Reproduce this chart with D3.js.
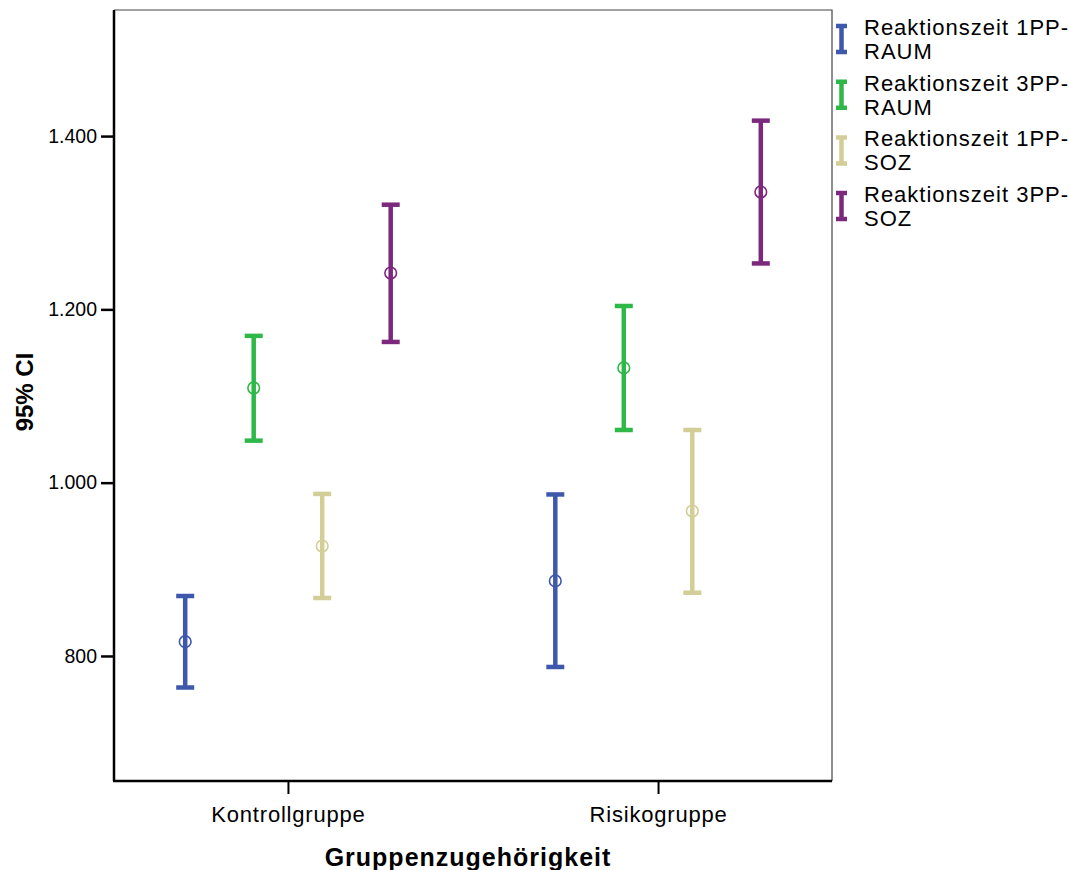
<!DOCTYPE html>
<html>
<head>
<meta charset="utf-8">
<script src="https://cdn.jsdelivr.net/npm/d3@7"></script>
<style>
  html, body { margin: 0; padding: 0; background: #fff; }
  svg { display: block; font-family: "Liberation Sans", Arial, Helvetica, sans-serif; }
</style>
</head>
<body>
<svg id="chart" width="1070" height="870"></svg>
<script>
// Groups on the x axis
const groups = ["Kontrollgruppe", "Risikogruppe"];
// Measures (one error bar per group each)
const series = [
  "Reaktionszeit 1PP-RAUM",
  "Reaktionszeit 3PP-RAUM",
  "Reaktionszeit 1PP-SOZ",
  "Reaktionszeit 3PP-SOZ"
];
const seriesColors = ["#3e58ac", "#2eb848", "#d3ce97", "#7c287d"];
// Means and 95% CI bounds, per measure, per group (Kontrollgruppe, Risikogruppe)
const means = [
  [816.5, 886.6],
  [1109.3, 1132.4],
  [926.9, 967.3],
  [1242.0, 1335.5]
];
const lower = [
  [763.6, 787.3],
  [1048.5, 1060.8],
  [866.9, 873.0],
  [1162.4, 1253.0]
];
const upper = [
  [869.2, 986.4],
  [1169.4, 1203.9],
  [987.0, 1060.8],
  [1320.8, 1417.8]
];
const yTicks = [800, 1000, 1200, 1400];
const yTitle = "95% CI";
const xTitle = "Gruppenzugehörigkeit";

const svg = d3.select("#chart");
const plot = { left: 114, right: 832, top: 10, bottom: 781 };

const x = d3.scalePoint().domain(groups).range([plot.left, plot.right]).padding(0.47);
const xOff = d3.scalePoint().domain(series).range([-102.75, 102.75]);
const y = d3.scaleLinear().domain([655.7, 1545.5]).range([plot.bottom, plot.top]);

const de = d3.formatLocale({ decimal: ",", thousands: ".", grouping: [3], currency: ["", " €"] });
const fmt = de.format(",");

// Frame: thin top/right border
svg.append("path")
  .attr("d", `M${plot.left},${plot.top}H${plot.right}V${plot.bottom}`)
  .attr("fill", "none").attr("stroke", "#444").attr("stroke-width", 1.2);

// Y axis
const yAxis = svg.append("g")
  .attr("transform", `translate(${plot.left},0)`)
  .call(d3.axisLeft(y).tickValues(yTicks).tickFormat(fmt).tickSize(13).tickSizeOuter(0).tickPadding(4));
yAxis.select(".domain").attr("stroke", "#000").attr("stroke-width", 2.5)
  .attr("d", `M0,${plot.top}V${plot.bottom}`);
yAxis.selectAll(".tick line").attr("stroke", "#000").attr("stroke-width", 2.5);
yAxis.selectAll(".tick text").attr("font-size", 19.5).attr("fill", "#000");

// X axis
const xAxis = svg.append("g")
  .attr("transform", `translate(0,${plot.bottom})`)
  .call(d3.axisBottom(x).tickSize(13).tickSizeOuter(0).tickPadding(12));
xAxis.select(".domain").attr("stroke", "#000").attr("stroke-width", 2.5)
  .attr("d", `M${plot.left - 1},0H${plot.right}`);
xAxis.selectAll(".tick line").attr("stroke", "#000").attr("stroke-width", 2);
xAxis.selectAll(".tick text").attr("font-size", 22).attr("letter-spacing", 0.8).attr("fill", "#000");

// Axis titles
svg.append("text")
  .attr("transform", `translate(33,392) rotate(-90)`)
  .attr("text-anchor", "middle").attr("font-size", 24).attr("font-weight", "bold")
  .text(yTitle);
svg.append("text")
  .attr("x", 468).attr("y", 866)
  .attr("text-anchor", "middle").attr("font-size", 25).attr("font-weight", "bold")
  .attr("letter-spacing", 1.0)
  .text(xTitle);

// Error bars
const bars = [];
series.forEach((s, si) => {
  groups.forEach((g, gi) => {
    bars.push({ s, g, color: seriesColors[si], mean: means[si][gi], lo: lower[si][gi], hi: upper[si][gi] });
  });
});
const capW = 9;
const eb = svg.append("g").selectAll("g").data(bars).join("g")
  .attr("transform", d => `translate(${x(d.g) + xOff(d.s)},0)`);
eb.append("line")
  .attr("y1", d => y(d.lo)).attr("y2", d => y(d.hi))
  .attr("stroke", d => d.color).attr("stroke-width", 4.5);
eb.append("line")
  .attr("x1", -capW).attr("x2", capW)
  .attr("y1", d => y(d.hi)).attr("y2", d => y(d.hi))
  .attr("stroke", d => d.color).attr("stroke-width", 4.5);
eb.append("line")
  .attr("x1", -capW).attr("x2", capW)
  .attr("y1", d => y(d.lo)).attr("y2", d => y(d.lo))
  .attr("stroke", d => d.color).attr("stroke-width", 4.5);
eb.append("circle")
  .attr("cy", d => y(d.mean)).attr("r", 5.8)
  .attr("fill", "none").attr("stroke", d => d.color).attr("stroke-width", 1.6);

// Legend
const legend = svg.append("g");
const entry = legend.selectAll("g").data(series).join("g")
  .attr("transform", (d, i) => `translate(0,${35 + i * 55.7})`);
entry.append("path")
  .attr("d", "M836,-9H847M841.5,-9V17M836,17H847")
  .attr("fill", "none")
  .attr("stroke", (d, i) => seriesColors[i]).attr("stroke-width", 4.5);
const lt = entry.append("text").attr("x", 864).attr("y", 0)
  .attr("font-size", 22).attr("letter-spacing", 1.0).attr("fill", "#000");
lt.append("tspan").attr("x", 864).attr("dy", 0).text(d => d.slice(0, d.lastIndexOf("-") + 1));
lt.append("tspan").attr("x", 864).attr("dy", 24).text(d => d.slice(d.lastIndexOf("-") + 1));
</script>
</body>
</html>
